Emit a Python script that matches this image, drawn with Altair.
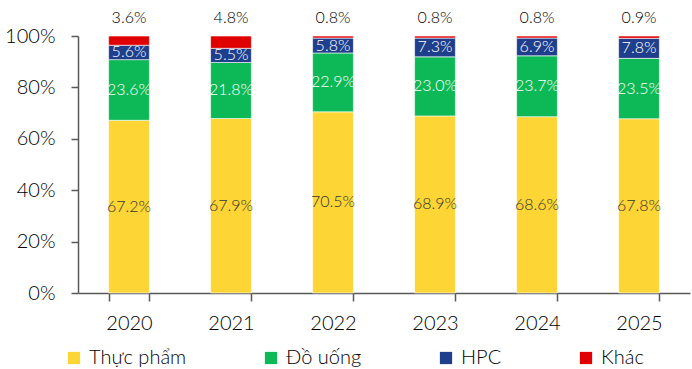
import altair as alt
import pandas as pd

years = ["2020", "2021", "2022", "2023", "2024", "2025"]
categories = ["Thực phẩm", "Đồ uống", "HPC", "Khác"]
thuc_pham = [67.2, 67.9, 70.5, 68.9, 68.6, 67.8]
do_uong = [23.6, 21.8, 22.9, 23.0, 23.7, 23.5]
hpc = [5.6, 5.5, 5.8, 7.3, 6.9, 7.8]
khac = [3.6, 4.8, 0.8, 0.8, 0.8, 0.9]
colors = ["#FDD535", "#0DB956", "#1F3F8C", "#E00000"]

series = [thuc_pham, do_uong, hpc, khac]
rows = []
for ci, (cat, vals) in enumerate(zip(categories, series)):
    for y, v in zip(years, vals):
        rows.append({"year": y, "cat": cat, "value": v, "ord": ci,
                     "label": f"{v:.1f}%"})
df = pd.DataFrame(rows)

FONT = "Lato"
W = 300
TXT = "#000000"

base = alt.Chart(df).transform_stack(
    stack="value", as_=["y0", "y1"], groupby=["year"],
    sort=[alt.SortField("ord", order="ascending")]
).transform_calculate(
    mid="(datum.y0 + datum.y1) / 2"
)

x_enc = alt.X("year:N", title=None,
              scale=alt.Scale(paddingInner=0.6, paddingOuter=0.3),
              axis=alt.Axis(labelAngle=0, labelFontSize=20, labelFont=FONT,
                            labelFontWeight=W,
                            labelColor=TXT, labelPadding=12,
                            tickBand="extent", tickSize=8, tickWidth=1.5,
                            tickColor="#595959", domainColor="#595959",
                            domainWidth=1.5))

bars = base.mark_bar(stroke="white", strokeWidth=0.6).encode(
    x=x_enc,
    y=alt.Y("y0:Q", title=None,
            scale=alt.Scale(domain=[0, 100], nice=False),
            axis=alt.Axis(values=[0, 20, 40, 60, 80, 100],
                          labelExpr="datum.value + '%'",
                          labelFontSize=20, labelFont=FONT,
                          labelFontWeight=W,
                          labelColor=TXT, labelPadding=16,
                          tickSize=7, tickWidth=1.5, tickColor="#595959",
                          domainColor="#595959", domainWidth=1.5,
                          grid=False)),
    y2="y1:Q",
    color=alt.Color("cat:N",
                    scale=alt.Scale(domain=categories, range=colors),
                    legend=alt.Legend(title=None, orient="none",
                                      legendX=-14, legendY=312,
                                      direction="horizontal",
                                      symbolType="square", symbolSize=150,
                                      symbolStrokeWidth=0,
                                      labelFontSize=20, labelFont=FONT,
                                      labelFontWeight=W,
                                      labelColor=TXT,
                                      columnPadding=74, labelOffset=5)),
    order=alt.Order("ord:Q", sort="ascending"),
)

inner_white = base.transform_filter(
    "datum.ord == 1 || datum.ord == 2"
).mark_text(fontSize=16, font=FONT, fontWeight=W, color="white",
            baseline="middle").encode(
    x="year:N", y="mid:Q", text="label:N")

inner_dark = base.transform_filter("datum.ord == 0").mark_text(
    fontSize=16, font=FONT, fontWeight=W, color="#333333",
    baseline="middle").encode(
    x="year:N", y="mid:Q", text="label:N")

top_lbl = base.transform_filter("datum.ord == 3").mark_text(
    fontSize=16, font=FONT, fontWeight=W, color=TXT,
    baseline="middle", dy=-18).encode(
    x="year:N", y="y1:Q", text="label:N")

chart = alt.layer(bars, inner_dark, inner_white, top_lbl).properties(
    width=612, height=257,
    autosize=alt.AutoSizeParams(type="none"),
    padding={"left": 78, "top": 36, "right": 2, "bottom": 76},
).configure_view(stroke=None)

chart.save("out.html", embed_options={"renderer": "svg", "actions": False})
